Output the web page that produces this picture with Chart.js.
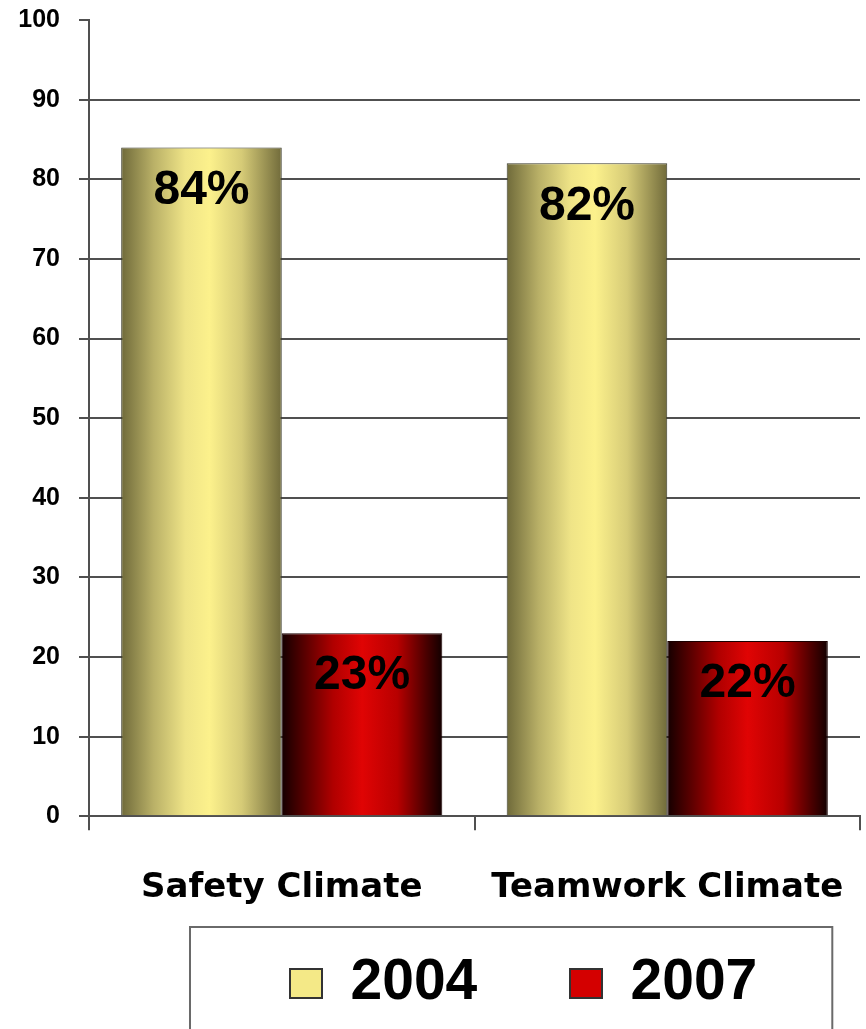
<!DOCTYPE html>
<html>
<head>
    <title>Safety and Teamwork Climate</title>
    <script src="https://cdn.jsdelivr.net/npm/chart.js"></script>
    <style>
        body {
            margin: 0;
            background-color: #ffffff;
        }

        .wrap {
            width: 866px;
            height: 1029px;
        }
    </style>
</head>
<body>
    <div class="wrap">
        <canvas id="climateChart" width="866" height="1029"></canvas>
    </div>

    <script>
        // chart data
        var categories = ['Safety Climate', 'Teamwork Climate'];
        var seriesNames = ['2004', '2007'];
        var values2004 = [84, 82];
        var values2007 = [23, 22];
        var yTicks = [0, 10, 20, 30, 40, 50, 60, 70, 80, 90, 100];

        var catPct = 0.833;
        var gridGrey = '#505050';

        var yellowStops = [[0, '#6f6a3a'], [0.2, '#b9b067'], [0.4, '#efe487'], [0.55, '#fcf18c'], [0.75, '#d6cb77'], [1, '#716b3b']];
        var redStops = [[0, '#140000'], [0.15, '#5c0000'], [0.32, '#b00000'], [0.5, '#e00404'], [0.72, '#b80000'], [0.9, '#4a0000'], [1, '#120000']];

        // horizontal gradient fitted to each bar, from the x scale
        function barGradient(context, stops) {
            var chart = context.chart;
            var xScale = chart.scales.x;
            if (!chart.chartArea || !xScale || context.dataIndex === undefined) {
                return stops[3][1];
            }
            var catW = xScale.width / categories.length;
            var barW = catW * catPct / 2;
            var mid = xScale.getPixelForValue(context.dataIndex) + (context.datasetIndex === 0 ? -barW / 2 : barW / 2);
            var g = chart.ctx.createLinearGradient(mid - barW / 2, 0, mid + barW / 2, 0);
            stops.forEach(function(s) { g.addColorStop(s[0], s[1]); });
            return g;
        }

        // percent labels inside the bars + legend frame
        var extrasPlugin = {
            id: 'extras',
            afterLayout: function(chart) {
                chart.legend.left -= 10;
                chart.legend.right -= 10;
            },
            afterDatasetsDraw: function(chart) {
                var ctx = chart.ctx;
                ctx.save();
                ctx.font = 'bold 48px "Liberation Sans", Arial, sans-serif';
                ctx.fillStyle = '#000000';
                ctx.textAlign = 'center';
                ctx.textBaseline = 'middle';
                chart.data.datasets.forEach(function(ds, di) {
                    chart.getDatasetMeta(di).data.forEach(function(bar, i) {
                        ctx.fillText(ds.data[i] + '%', bar.x, bar.y + 43);
                    });
                });
                ctx.restore();
            },
            afterDraw: function(chart) {
                var hb = chart.legend.legendHitBoxes;
                if (!hb || !hb.length) return;
                var last = hb[hb.length - 1];
                var ctx = chart.ctx;
                ctx.save();
                ctx.strokeStyle = '#6a6a6a';
                ctx.lineWidth = 2;
                ctx.strokeRect(hb[0].left - 100, hb[0].top - 28, (last.left + last.width + 75) - (hb[0].left - 100), 200);
                ctx.restore();
            }
        };

        var legendFills = ['#f4e987', '#d40000'];

        var ctx = document.getElementById('climateChart').getContext('2d');
        var climateChart = new Chart(ctx, {
            type: 'bar',
            data: {
                labels: categories,
                datasets: [{
                    label: seriesNames[0],
                    data: values2004,
                    backgroundColor: function(c) { return barGradient(c, yellowStops); },
                    borderColor: '#3a3a2a',
                    borderWidth: 1,
                    categoryPercentage: catPct,
                    barPercentage: 1
                }, {
                    label: seriesNames[1],
                    data: values2007,
                    backgroundColor: function(c) { return barGradient(c, redStops); },
                    borderColor: '#1a0000',
                    borderWidth: 1,
                    categoryPercentage: catPct,
                    barPercentage: 1
                }]
            },
            options: {
                responsive: false,
                animation: false,
                layout: {
                    padding: { left: 0, right: 6, top: 20, bottom: 7 }
                },
                scales: {
                    y: {
                        min: 0,
                        max: 100,
                        afterFit: function(scale) {
                            scale.width = 89;
                            scale.paddingTop = 0;
                            scale.paddingBottom = 0;
                        },
                        afterBuildTicks: function(scale) {
                            scale.ticks = yTicks.map(function(v) { return { value: v }; });
                        },
                        border: { display: true, color: gridGrey, width: 2 },
                        grid: {
                            color: function(c) { return c.tick && c.tick.value === 100 ? 'rgba(0,0,0,0)' : gridGrey; },
                            tickColor: gridGrey,
                            lineWidth: 2,
                            tickLength: 10
                        },
                        ticks: {
                            padding: 19,
                            color: '#000000',
                            font: { family: '"Liberation Sans", Arial, sans-serif', size: 25, weight: 'bold' }
                        }
                    },
                    x: {
                        afterFit: function(scale) {
                            // keep the axis short so the legend can sit higher; labels drawn below it unclipped
                            scale.height = 46;
                            scale.paddingLeft = 0;
                            scale.paddingRight = 0;
                            scale._computeLabelArea = function() { return null; };
                        },
                        border: { display: true, color: gridGrey, width: 2 },
                        grid: {
                            offset: true,
                            drawOnChartArea: false,
                            color: gridGrey,
                            lineWidth: 2,
                            tickLength: 14
                        },
                        ticks: {
                            padding: 41,
                            color: '#000000',
                            maxRotation: 0,
                            autoSkip: false,
                            font: { family: '"DejaVu Sans", sans-serif', size: 34, weight: 'bold', lineHeight: 1 }
                        }
                    }
                },
                plugins: {
                    tooltip: { enabled: false },
                    legend: {
                        position: 'bottom',
                        align: 'end',
                        labels: {
                            boxWidth: 32,
                            boxHeight: 29,
                            padding: 92.7,
                            color: '#000000',
                            font: { family: '"Liberation Sans", Arial, sans-serif', size: 57, weight: 'bold' },
                            generateLabels: function(chart) {
                                var items = Chart.defaults.plugins.legend.labels.generateLabels(chart);
                                items.forEach(function(it, i) {
                                    it.fillStyle = legendFills[i];
                                    it.strokeStyle = '#333333';
                                    it.lineWidth = 2;
                                });
                                return items;
                            }
                        }
                    }
                }
            },
            plugins: [extrasPlugin]
        });
    </script>
</body>
</html>
